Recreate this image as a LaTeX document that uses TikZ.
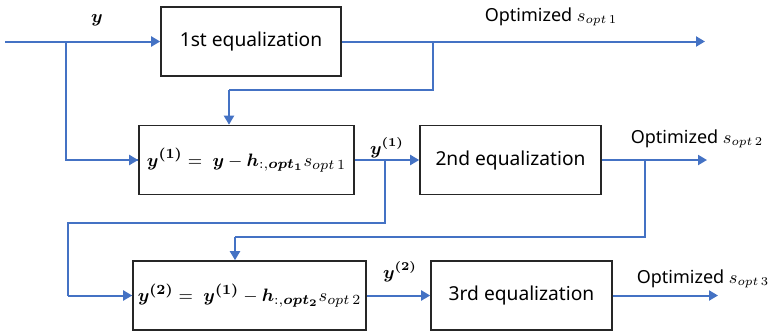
\documentclass[tikz,border=0pt]{standalone}
\usepackage{amsmath,bm}
\usepackage{fontspec}
\setmainfont{Noto Sans}
\usetikzlibrary{arrows.meta}
\definecolor{flowblue}{HTML}{4472C4}

\begin{document}
\begin{tikzpicture}[x=0.5pt,y=-0.5pt,
    box/.style={draw,thick,black!85,minimum height=34.5pt,inner sep=0pt,font=\fontsize{9.6}{11}\selectfont,text=black},
    eqbox/.style={box,font=\fontsize{9.4}{11}\selectfont},
    flow/.style={flowblue,line width=1pt,-{Triangle[length=4.5pt,width=5pt]}},
    branch/.style={flowblue,line width=0.55pt},
    lbl/.style={font=\fontsize{9}{11}\selectfont}]
  \useasboundingbox (0,0) rectangle (774,333);
  % blocks
  \node[box,minimum width=90pt] (eqA) at (251,41.5) {1st equalization};
  \node[eqbox,minimum width=107.5pt] (subA) at (246.5,160)
    {$\bm{y^{(1)}} =\; \bm{y} - \bm{h}_{:,\bm{opt_1}} s_{opt\,1}$};
  \node[box,minimum width=90.5pt] (eqB) at (510.5,160) {2nd equalization};
  \node[eqbox,minimum width=116.5pt] (subB) at (249.5,295.5)
    {$\bm{y^{(2)}} =\; \bm{y^{(1)}} - \bm{h}_{:,\bm{opt_2}} s_{opt\,2}$};
  \node[box,minimum width=90.5pt] (eqC) at (521.5,295.5) {3rd equalization};
  % ends and taps
  \coordinate (in) at (5,41.5);
  \coordinate (outA) at (705,41.5);
  \coordinate (outB) at (707,160);
  \coordinate (outC) at (718,295.5);
  \coordinate (tapA) at (66,41.5);
  \coordinate (tapB) at (433,41.5);
  \coordinate (tapC) at (385,160);
  \coordinate (tapD) at (645,160);
  \coordinate (bendA) at (229,90);
  \coordinate (bendB) at (68,223);
  \coordinate (bendC) at (235,237);
  % main flow
  \draw[flow] (in) -- (eqA.west);
  \draw[flow] (eqA.east) -- (outA);
  \draw[flow] (subA.east) -- (eqB.west);
  \draw[flow] (eqB.east) -- (outB);
  \draw[flow] (subB.east) -- (eqC.west);
  \draw[flow] (eqC.east) -- (outC);
  % feedback branches
  \draw[branch] (tapA) |- (subA.west);
  \draw[flow] (tapA |- subA.west) -- (subA.west);
  \draw[branch] (tapB) |- (bendA);
  \draw[flow] (bendA) -- (bendA |- subA.north);
  \draw[branch] (tapC) |- (bendB) |- (subB.west);
  \draw[flow] (bendB |- subB.west) -- (subB.west);
  \draw[branch] (tapD) |- (bendC);
  \draw[flow] (bendC) -- (bendC |- subB.north);
  % labels
  \node[lbl] (yin) at (97,20) {$\bm{y}$};
  \node[lbl] (optA) at (551,17) {Optimized $s_{opt\,1}$};
  \node[lbl] (yA) at (387,148) {$\bm{y^{(1)}}$};
  \node[lbl] (optB) at (697,139) {Optimized $s_{opt\,2}$};
  \node[lbl] (yB) at (400,272) {$\bm{y^{(2)}}$};
  \node[lbl] (optC) at (703,279) {Optimized $s_{opt\,3}$};
\end{tikzpicture}
\end{document}
